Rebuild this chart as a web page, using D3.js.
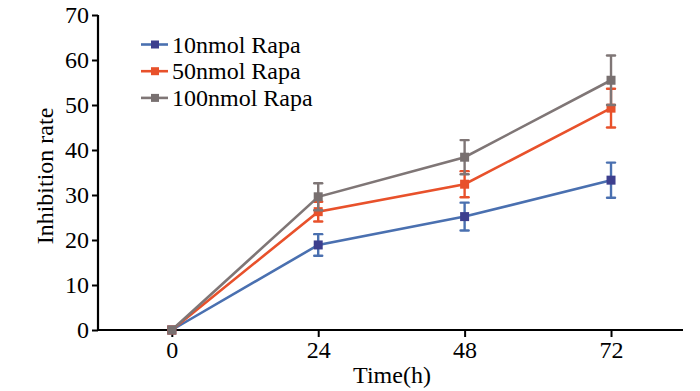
<!DOCTYPE html>
<html>
<head>
<meta charset="utf-8">
<script src="https://cdn.jsdelivr.net/npm/d3@7"></script>
<style>
  body { margin: 0; background: #fff; }
  text { font-family: "Liberation Serif", "Times New Roman", serif; }
</style>
</head>
<body>
<script>
const width = 700;
const height = 391;

const times = [0, 24, 48, 72];
const seriesNames = ['10nmol Rapa', '50nmol Rapa', '100nmol Rapa'];
const low = [0, 18.9, 25.2, 33.3];
const lowErr = [0, 2.4, 3.1, 3.9];
const mid = [0, 26.3, 32.4, 49.3];
const midErr = [0, 2.2, 2.9, 4.3];
const high = [0, 29.6, 38.4, 55.5];
const highErr = [0, 3.0, 3.8, 5.5];
const yTicks = [0, 10, 20, 30, 40, 50, 60, 70];

const lineColors = ['#4a70b0', '#e8512b', '#7f7676'];
const markColors = ['#3d3f8e', '#e8512b', '#787070'];

const series = [
  { name: seriesNames[0], values: low, err: lowErr },
  { name: seriesNames[1], values: mid, err: midErr },
  { name: seriesNames[2], values: high, err: highErr }
];

const svg = d3.select('body')
  .append('svg')
  .attr('width', width)
  .attr('height', height);

const x = d3.scaleLinear().domain([-12.1, 83.8]).range([98, 683]);
const y = d3.scaleLinear().domain([0, 70]).range([330, 15]);

// axes
const yAxis = svg.append('g')
  .attr('transform', 'translate(98,0)')
  .call(d3.axisLeft(y).tickValues(yTicks).tickSize(6).tickPadding(3));
const xAxis = svg.append('g')
  .attr('transform', 'translate(0,330)')
  .call(d3.axisBottom(x).tickValues(times).tickSize(7).tickPadding(4));

[yAxis, xAxis].forEach(g => {
  g.select('.domain').attr('stroke', '#000').attr('stroke-width', 2.2);
  g.selectAll('.tick line').attr('stroke', '#000').attr('stroke-width', 2);
  g.selectAll('.tick text').attr('fill', '#000').style('font-size', '24px')
    .style('font-family', '"Liberation Serif", serif');
});
// keep x axis domain without end ticks
xAxis.select('.domain').attr('d', 'M98,0H683');
yAxis.select('.domain').attr('d', 'M0,330V15');

svg.append('text')
  .attr('transform', 'translate(53,176) rotate(-90)')
  .attr('text-anchor', 'middle')
  .style('font-size', '24px')
  .text('Inhibition rate');

svg.append('text')
  .attr('x', 392)
  .attr('y', 383)
  .attr('text-anchor', 'middle')
  .style('font-size', '24px')
  .text('Time(h)');

const line = d3.line()
  .x((d, i) => x(times[i]))
  .y(d => y(d));

// draw from back (10nmol) to front (100nmol)
series.forEach((s, si) => {
  const g = svg.append('g');
  g.append('path')
    .datum(s.values)
    .attr('fill', 'none')
    .attr('stroke', lineColors[si])
    .attr('stroke-width', 2.6)
    .attr('d', line);

  const eb = g.selectAll('.err')
    .data(s.values.map((v, i) => ({ t: times[i], v, e: s.err[i] })).filter(d => d.e > 0))
    .enter().append('g');
  eb.append('line')
    .attr('x1', d => x(d.t)).attr('x2', d => x(d.t))
    .attr('y1', d => y(d.v - d.e)).attr('y2', d => y(d.v + d.e))
    .attr('stroke', lineColors[si]).attr('stroke-width', 2.4);
  [-1, 1].forEach(sign => {
    eb.append('line')
      .attr('x1', d => x(d.t) - 4).attr('x2', d => x(d.t) + 4)
      .attr('y1', d => y(d.v + sign * d.e)).attr('y2', d => y(d.v + sign * d.e))
      .attr('stroke', lineColors[si]).attr('stroke-width', 2.4)
      .attr('stroke-linecap', 'round');
  });

  g.selectAll('.mk')
    .data(s.values)
    .enter().append('rect')
    .attr('x', (d, i) => x(times[i]) - 4.5)
    .attr('y', d => y(d) - 4.5)
    .attr('width', 9)
    .attr('height', 9)
    .attr('fill', markColors[si]);
});

// legend
const legend = svg.append('g');
series.forEach((s, si) => {
  const ly = 44.5 + si * 26.7;
  legend.append('line')
    .attr('x1', 141).attr('x2', 168)
    .attr('y1', ly).attr('y2', ly)
    .attr('stroke', lineColors[si]).attr('stroke-width', 2.6);
  legend.append('rect')
    .attr('x', 151).attr('y', ly - 4).attr('width', 8).attr('height', 8)
    .attr('fill', markColors[si]);
  legend.append('text')
    .attr('x', 172).attr('y', ly + 8)
    .style('font-size', '24px')
    .text(s.name);
});
</script>
</body>
</html>
